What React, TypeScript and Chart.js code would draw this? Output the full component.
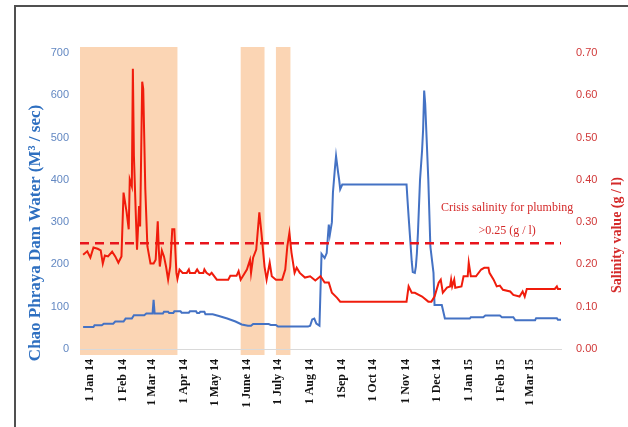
import React, { useEffect, useRef } from "react";
import { Chart, registerables } from "chart.js";

Chart.register(...registerables);

// x values are days since 1 Jan 2014
const tickDays = [0, 31, 59, 90, 120, 151, 181, 212, 243, 273, 304, 334, 365, 396, 424];
const tickLabels = [
  "1 Jan 14", "1 Feb 14", "1 Mar 14", "1 Apr 14", "1 May 14", "1 June 14", "1 July 14",
  "1 Aug 14", "1Sep 14", "1 Oct 14", "1 Nov 14", "1 Dec 14", "1 Jan 15", "1 Feb 15", "1 Mar 15",
];

const flowDays = [
  -7, 3, 4, 11, 13, 22, 24, 32, 34, 40, 42, 52, 54, 60, 61, 62, 70, 71, 75, 76, 80, 81, 87, 88, 95,
  96, 102, 103, 105, 106, 110, 111, 118, 124, 132, 140, 146, 152, 155, 157, 172, 174, 179, 181, 210,
  212, 214, 216, 218, 221, 223, 226, 228, 229, 230, 231, 233, 234, 236, 237, 239, 240, 241, 243, 305,
  306, 307, 310, 311, 313, 314, 315, 316, 318, 320, 321, 322, 323, 326, 328, 331, 332, 339, 342, 366,
  367, 379, 381, 395, 397, 408, 410, 429, 430, 450, 451, 455,
];
const flowValues = [
  52, 52, 56, 56, 60, 60, 65, 65, 72, 72, 80, 80, 84, 84, 116, 84, 84, 88, 88, 85, 85, 89, 89, 86, 86,
  89, 89, 85, 85, 88, 88, 82, 82, 78, 72, 65, 58, 55, 55, 59, 59, 57, 57, 53, 53,
  55, 70, 72, 60, 55, 225, 215, 227, 262, 294, 270, 300, 370, 430, 456, 417, 400, 378, 389, 389,
  350, 313, 207, 182, 180, 195, 227, 275, 400, 470, 520, 611, 580, 400, 242, 180, 104, 104, 72, 72,
  75, 75, 79, 79, 75, 75, 68, 68, 73, 73, 69, 69,
];

const salinityDays = [
  -7, -3, 0, 3, 7, 10, 12, 14, 17, 21, 24, 27, 30, 32, 35, 37, 38, 40, 41, 42,
  44, 45, 47, 48, 50, 51, 53, 55, 58, 61, 63, 65, 66, 67, 69, 71, 73, 75, 77, 79,
  81, 83, 84, 86, 89, 93, 95, 96, 101, 103, 105, 109, 110, 112, 115, 117, 122, 133, 135, 141,
  143, 145, 151, 154, 155, 157, 160, 163, 165, 168, 170, 173, 175, 179, 185, 188, 190, 192, 194, 197,
  199, 202, 207, 212, 217, 222, 226, 230, 233, 238, 241, 305, 307, 310, 313, 320, 326, 329, 332, 336,
  338, 340, 344, 347, 348, 349, 351, 352, 358, 360, 364, 365, 367, 372, 377, 380, 384, 385, 389, 392,
  395, 398, 405, 408, 414, 417, 419, 421, 448, 450, 451, 455,
];
const salinityValues = [
  0.223, 0.231, 0.216, 0.24, 0.237, 0.233, 0.202, 0.221, 0.219, 0.23, 0.219, 0.204, 0.219, 0.37, 0.323, 0.283, 0.401, 0.385, 0.663, 0.457,
  0.306, 0.235, 0.338, 0.29, 0.632, 0.615, 0.378, 0.243, 0.202, 0.202, 0.211, 0.302, 0.235, 0.195, 0.233, 0.219, 0.195, 0.164, 0.195, 0.283,
  0.283, 0.18, 0.166, 0.188, 0.18, 0.18, 0.188, 0.18, 0.18, 0.188, 0.18, 0.18, 0.188, 0.18, 0.175, 0.18, 0.164, 0.164, 0.173, 0.173,
  0.184, 0.164, 0.188, 0.211, 0.18, 0.216, 0.235, 0.323, 0.275, 0.195, 0.164, 0.204, 0.172, 0.164, 0.164, 0.188, 0.243, 0.275, 0.228, 0.18,
  0.192, 0.18, 0.169, 0.172, 0.162, 0.172, 0.157, 0.157, 0.133, 0.121, 0.112, 0.112, 0.148, 0.133, 0.133, 0.124, 0.112, 0.112, 0.124, 0.157,
  0.164, 0.133, 0.145, 0.148, 0.164, 0.148, 0.164, 0.145, 0.148, 0.172, 0.172, 0.204, 0.172, 0.172, 0.188, 0.192, 0.192, 0.18, 0.164, 0.148,
  0.15, 0.14, 0.136, 0.128, 0.124, 0.136, 0.124, 0.142, 0.142, 0.148, 0.142, 0.142,
];

const crisisLevel = 0.25;
const crisisLabel = ["Crisis salinity for plumbing", ">0.25 (g / l)"];
const bandStarts = [-10, 145, 179];
const bandEnds = [84, 168, 193];

const X_MIN = -10;
const X_MAX = 454;

const BLUE = "#4472c4";
const RED = "#f01c0c";

const decorPlugin = {
  id: "decor",
  beforeDraw(chart: any) {
    const { ctx, chartArea, scales } = chart;
    const xs = scales.x;
    ctx.save();
    ctx.fillStyle = "#fbd5b4";
    for (let i = 0; i < bandStarts.length; i++) {
      const a = Math.max(xs.getPixelForValue(bandStarts[i]), chartArea.left);
      const b = Math.min(xs.getPixelForValue(bandEnds[i]), chartArea.right);
      ctx.fillRect(a, chartArea.top - 6, b - a, chartArea.bottom - chartArea.top + 12);
    }
    ctx.restore();
  },
  afterDraw(chart: any) {
    const { ctx, scales, width, height } = chart;
    ctx.save();
    // frame
    ctx.strokeStyle = "#505050";
    ctx.lineWidth = 2;
    ctx.beginPath();
    ctx.moveTo(15, height + 2);
    ctx.lineTo(15, 6);
    ctx.lineTo(width + 2, 6);
    ctx.stroke();

    // axis titles
    ctx.textAlign = "center";
    ctx.textBaseline = "middle";
    ctx.save();
    ctx.translate(36, 233);
    ctx.rotate(-Math.PI / 2);
    ctx.fillStyle = "#2e6fc0";
    ctx.font = "bold 17px 'Liberation Serif'";
    ctx.fillText("Chao Phraya Dam Water (M\u00b3 / sec)", 0, 0);
    ctx.restore();

    ctx.save();
    ctx.translate(617, 235);
    ctx.rotate(-Math.PI / 2);
    ctx.fillStyle = "#d42a2a";
    ctx.font = "bold 14px 'Liberation Serif'";
    ctx.fillText("Salinity value (g / l)", 0, 0);
    ctx.restore();

    // annotation
    const ax = scales.x.getPixelForValue(402);
    ctx.fillStyle = "#d42a2a";
    ctx.font = "12px 'Liberation Serif'";
    ctx.fillText(crisisLabel[0], ax, scales.y1.getPixelForValue(0.333));
    ctx.fillText(crisisLabel[1], ax, scales.y1.getPixelForValue(0.28));
    ctx.restore();
  },
};

export default function App() {
  const ref = useRef<HTMLCanvasElement>(null);
  useEffect(() => {
    if (!ref.current) return;
    const chart = new Chart(ref.current, {
      type: "line",
      data: {
        datasets: [
          {
            label: "Salinity",
            data: salinityDays.map((d, i) => ({ x: d, y: salinityValues[i] })),
            yAxisID: "y1",
            borderColor: RED,
            borderWidth: 2,
            pointRadius: 0,
            tension: 0,
            order: 0,
          },
          {
            label: "Crisis",
            data: [
              { x: X_MIN, y: crisisLevel },
              { x: X_MAX, y: crisisLevel },
            ],
            yAxisID: "y1",
            borderColor: "#e8141c",
            borderWidth: 2.5,
            borderDash: [9, 6],
            pointRadius: 0,
            order: 1,
          },
          {
            label: "Flow",
            data: flowDays.map((d, i) => ({ x: d, y: flowValues[i] })),
            yAxisID: "y",
            borderColor: BLUE,
            borderWidth: 2,
            pointRadius: 0,
            tension: 0,
            order: 2,
          },
        ],
      },
      options: {
        responsive: true,
        maintainAspectRatio: false,
        animation: false,
        layout: { padding: { top: 53, left: 0, right: 0, bottom: 0 } },
        plugins: { legend: { display: false }, tooltip: { enabled: false } },
        scales: {
          x: {
            type: "linear",
            min: X_MIN,
            max: X_MAX,
            afterBuildTicks: (axis: any) => {
              axis.ticks = tickDays.map((v) => ({ value: v }));
            },
            afterFit: (axis: any) => {
              axis.height = 78;
            },
            ticks: {
              autoSkip: false,
              maxRotation: 90,
              minRotation: 90,
              padding: 10,
              color: "#111",
              font: { family: "'Liberation Serif'", size: 12, weight: "bold" },
              callback: (v: any) => {
                const i = tickDays.indexOf(Number(v));
                return i >= 0 ? tickLabels[i] : "";
              },
            },
            grid: { display: false, drawTicks: false },
            border: { display: true, color: "#d9d9d9", width: 1 },
          },
          y: {
            position: "left",
            min: 0,
            max: 700,
            afterFit: (axis: any) => {
              axis.width = 80;
            },
            ticks: {
              stepSize: 100,
              padding: 11,
              color: "#6388c2",
              font: { family: "'Liberation Sans'", size: 11 },
            },
            grid: { display: false, drawTicks: false },
            border: { display: false },
          },
          y1: {
            position: "right",
            min: 0,
            max: 0.7,
            afterFit: (axis: any) => {
              axis.width = 67;
            },
            ticks: {
              stepSize: 0.1,
              padding: 15,
              color: "#d03838",
              font: { family: "'Liberation Sans'", size: 11 },
              callback: (v: any) => Number(v).toFixed(2),
            },
            grid: { display: false, drawTicks: false },
            border: { display: false },
          },
        },
      },
      plugins: [decorPlugin],
    });
    return () => chart.destroy();
  }, []);
  return (
    <div style={{ position: "fixed", left: 0, top: 0, width: 628, height: 427, background: "#fff" }}>
      <canvas ref={ref} />
    </div>
  );
}
